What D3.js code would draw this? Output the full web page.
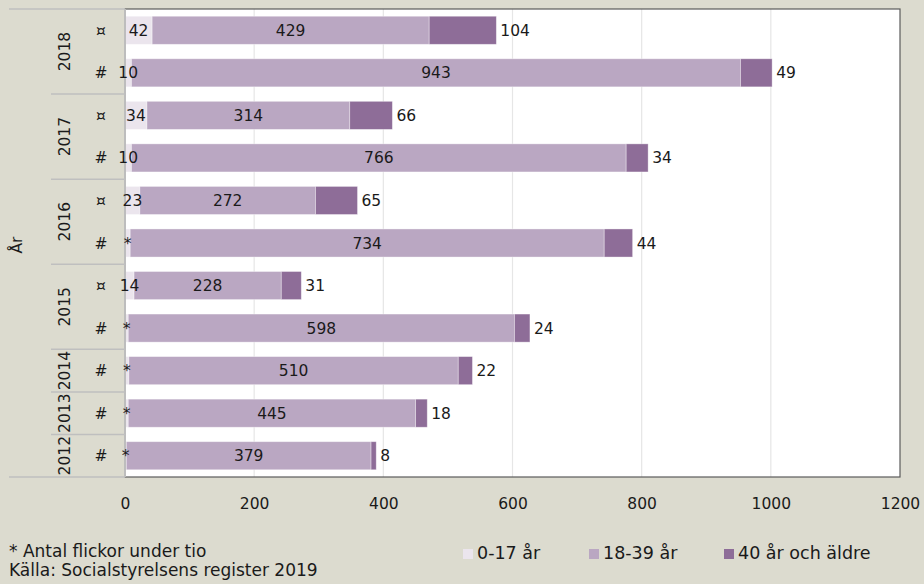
<!DOCTYPE html>
<html>
<head>
<meta charset="utf-8">
<script src="https://cdn.jsdelivr.net/npm/d3@7"></script>
<style>
  html, body { margin: 0; padding: 0; background: #dcdbcf; }
  svg { display: block; }
  text { font-family: "DejaVu Sans", sans-serif; fill: #1a1a1a; }
</style>
</head>
<body>
<svg id="chart" width="924" height="584"></svg>
<script>
// ---- data ----
const rowYears = ["2018","2018","2017","2017","2016","2016","2015","2015","2014","2013","2012"];
const rowMarks = ["¤","#","¤","#","¤","#","¤","#","#","#","#"];
const young = [42, 10, 34, 10, 23, 8, 14, 5, 6, 5, 2];          // 0-17 år
const youngLabels = ["42","10","34","10","23","*","14","*","*","*","*"];
const mid = [429, 943, 314, 766, 272, 734, 228, 598, 510, 445, 379]; // 18-39 år
const old = [104, 49, 66, 34, 65, 44, 31, 24, 22, 18, 8];       // 40 år och äldre
const xTicks = [0, 200, 400, 600, 800, 1000, 1200];
const seriesNames = ["0-17 år", "18-39 år", "40 år och äldre"];
const seriesColors = ["#ebe5ed", "#baa7c2", "#8e6d98"];
const yearGroups = ["2018","2017","2016","2015","2014","2013","2012"];
const axisTitle = "År";
const footNotes = ["* Antal flickor under tio", "Källa: Socialstyrelsens register 2019"];

// ---- layout ----
const svg = d3.select("#chart");
const plot = { left: 125, right: 900, top: 9, bottom: 477 };

const rows = rowYears.map((y, i) => ({
  key: i, year: y, mark: rowMarks[i],
  vals: [young[i], mid[i], old[i]],
  labels: [youngLabels[i], String(mid[i]), String(old[i])]
}));

const x = d3.scaleLinear().domain([0, 1200]).range([plot.left, plot.right]);
const y = d3.scaleBand().domain(rows.map(r => r.key))
  .range([plot.top, plot.bottom]).paddingInner(0.34).paddingOuter(0.17);

// plot background
svg.append("rect")
  .attr("x", plot.left).attr("y", plot.top)
  .attr("width", plot.right - plot.left).attr("height", plot.bottom - plot.top)
  .attr("fill", "#ffffff");

// gridlines
svg.append("g").selectAll("line")
  .data(xTicks.filter(t => t > 0 && t < 1200))
  .join("line")
  .attr("x1", d => x(d)).attr("x2", d => x(d))
  .attr("y1", plot.top).attr("y2", plot.bottom)
  .attr("stroke", "#e6e6e6").attr("stroke-width", 1.2);

// stacked bars
const stack = d3.stack().keys([0, 1, 2]).value((d, k) => d.vals[k]);
const series = stack(rows);

series.forEach((s, si) => {
  svg.append("g").selectAll("rect")
    .data(s)
    .join("rect")
    .attr("x", d => x(d[0]))
    .attr("y", d => y(d.data.key))
    .attr("width", d => x(d[1]) - x(d[0]))
    .attr("height", y.bandwidth())
    .attr("fill", seriesColors[si])
    .attr("stroke", "#ffffff").attr("stroke-opacity", 0.45).attr("stroke-width", 0.8);
});

// plot frame
svg.append("rect")
  .attr("x", plot.left).attr("y", plot.top)
  .attr("width", plot.right - plot.left).attr("height", plot.bottom - plot.top)
  .attr("fill", "none").attr("stroke", "#5a5a5a").attr("stroke-width", 1.2);
// left axis line
svg.append("line")
  .attr("x1", plot.left).attr("x2", plot.left)
  .attr("y1", plot.top).attr("y2", plot.bottom)
  .attr("stroke", "#bdbdbd").attr("stroke-width", 2);

// value labels (drawn above bars and axis line)
const labelG = svg.append("g").attr("font-size", 15.5);
series.forEach((s, si) => {
  labelG.selectAll(null)
    .data(s)
    .join("text")
    .attr("x", d => si < 2 ? (x(d[0]) + x(d[1])) / 2 : x(d[1]) + 4)
    .attr("y", d => y(d.data.key) + y.bandwidth() / 2)
    .attr("dy", "0.36em")
    .attr("text-anchor", si < 2 ? "middle" : "start")
    .text(d => d.data.labels[si]);
});

// x axis tick labels
const xAxis = d3.axisBottom(x).tickValues(xTicks).tickSize(0).tickPadding(0).tickFormat(d3.format("d"));
const xg = svg.append("g").attr("transform", `translate(0,${plot.bottom})`).call(xAxis);
xg.select(".domain").remove();
xg.selectAll("text").attr("font-size", 15.5).attr("font-family", "DejaVu Sans, sans-serif")
  .attr("fill", "#1a1a1a").attr("y", 26).attr("dy", "0.36em");

// multi-level category axis
const sepColor = "#bfbfbf";
const catG = svg.append("g");
const groupInfo = yearGroups.map(g => {
  const idx = rows.filter(r => r.year === g).map(r => r.key);
  const top = y(idx[0]) - y.step() * y.paddingInner() / 2;
  const bot = y(idx[idx.length - 1]) + y.bandwidth() + y.step() * y.paddingInner() / 2;
  return { year: g, top: Math.max(top, plot.top), bot: Math.min(bot, plot.bottom) };
});
catG.selectAll("line.sep")
  .data(groupInfo.slice(1))
  .join("line")
  .attr("x1", 51).attr("x2", plot.left)
  .attr("y1", d => d.top).attr("y2", d => d.top)
  .attr("stroke", sepColor).attr("stroke-width", 1.5);
catG.selectAll("line.outer")
  .data([plot.top, plot.bottom])
  .join("line")
  .attr("x1", 9).attr("x2", plot.left)
  .attr("y1", d => d).attr("y2", d => d)
  .attr("stroke", sepColor).attr("stroke-width", 1.5);

catG.selectAll("text.mark")
  .data(rows)
  .join("text")
  .attr("x", 101)
  .attr("y", d => y(d.key) + y.bandwidth() / 2)
  .attr("dy", "0.36em")
  .attr("text-anchor", "middle")
  .attr("font-size", 15.5)
  .text(d => d.mark);

catG.selectAll("text.year")
  .data(groupInfo)
  .join("text")
  .attr("transform", d => `translate(64,${(d.top + d.bot) / 2}) rotate(-90)`)
  .attr("dy", "0.36em")
  .attr("text-anchor", "middle")
  .attr("font-size", 15.5)
  .text(d => d.year);

svg.append("text")
  .attr("transform", `translate(16,${(plot.top + plot.bottom) / 2 + 2}) rotate(-90)`)
  .attr("dy", "0.36em")
  .attr("text-anchor", "middle")
  .attr("font-size", 15.5)
  .text(axisTitle);

// legend
const legendX = [463, 589, 724];
const lg = svg.append("g");
seriesNames.forEach((n, i) => {
  lg.append("rect").attr("x", legendX[i]).attr("y", 549).attr("width", 10).attr("height", 10)
    .attr("fill", seriesColors[i]);
  lg.append("text").attr("x", legendX[i] + 14).attr("y", 559)
    .attr("font-size", 17.5).text(n);
});

// footnotes
svg.append("g").selectAll("text")
  .data(footNotes)
  .join("text")
  .attr("x", 9)
  .attr("y", (d, i) => 557 + i * 18.5)
  .attr("font-size", 17)
  .text(d => d);
</script>
</body>
</html>
